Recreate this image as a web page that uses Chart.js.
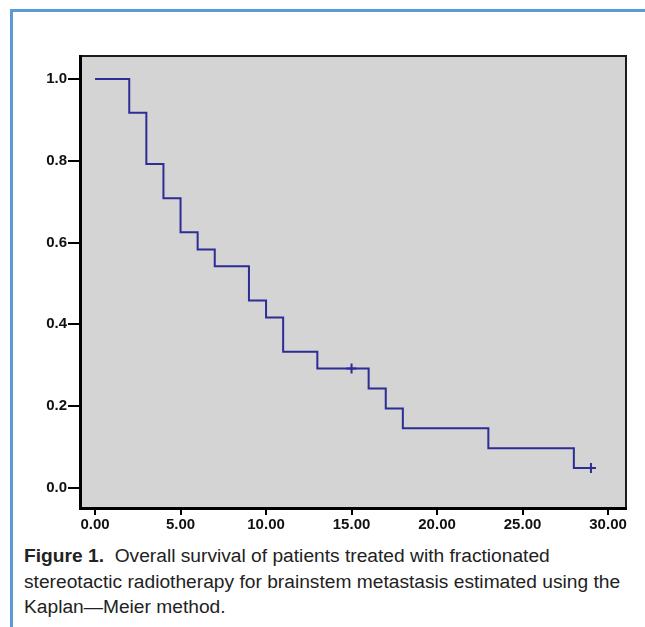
<!DOCTYPE html>
<html>
<head>
<meta charset="utf-8">
<title>Overall survival - Kaplan-Meier</title>
<script src="https://cdn.jsdelivr.net/npm/chart.js@4.4.1/dist/chart.umd.min.js"></script>
<style>
    html, body { margin: 0; padding: 0; background: #fff; }
    body { width: 645px; height: 627px; position: relative; overflow: hidden; }
    .frame {
        position: absolute; left: 10px; top: 9px; right: -20px; bottom: -20px;
        border-top: 3px solid #5b9bd5; border-left: 3px solid #5b9bd5;
    }
    #km-chart { position: absolute; left: 0; top: 0; }
    .caption {
        position: absolute; left: 24px; top: 543px; width: 620px;
        font-family: "Liberation Sans", Arial, sans-serif; font-size: 19.2px;
        line-height: 25.5px; color: #222; white-space: nowrap;
    }
    .caption b { font-family: "Liberation Sans Narrow", "Liberation Sans", Arial, sans-serif; }
</style>
</head>
<body>
<div class="frame"></div>
<canvas id="km-chart" width="645" height="540"></canvas>
<div class="caption"><b>Figure 1.</b>&nbsp; Overall survival of patients treated with fractionated<br>stereotactic radiotherapy for brainstem metastasis estimated using the<br>Kaplan—Meier method.</div>

<script>
/* Kaplan-Meier overall survival curve */

const times = [0, 2, 3, 4, 5, 6, 7, 9, 10, 11, 13, 15, 16, 17, 18, 23, 28, 29];
const survival = [1.0, 0.917, 0.792, 0.708, 0.625, 0.583, 0.542, 0.458, 0.417, 0.333, 0.292, 0.292, 0.243, 0.194, 0.146, 0.097, 0.049, 0.049];

// censored cases
const censorTimes = [15, 29];
const censorSurvival = [0.292, 0.049];

const xTickValues = [0, 5, 10, 15, 20, 25, 30];
const xTickLabels = ['0.00', '5.00', '10.00', '15.00', '20.00', '25.00', '30.00'];
const yTickValues = [0, 0.2, 0.4, 0.6, 0.8, 1.0];
const yTickLabels = ['0.0', '0.2', '0.4', '0.6', '0.8', '1.0'];

const lineColor = '#2c2d95';

// gray plot background + thin box round it
const plotFrame = {
    id: 'plotFrame',
    beforeDraw(chart) {
        const { ctx, chartArea: a } = chart;
        ctx.save();
        ctx.fillStyle = '#d4d4d4';
        ctx.fillRect(a.left, a.top, a.right - a.left, a.bottom - a.top);
        ctx.strokeStyle = '#1c1c1c';
        ctx.lineWidth = 2;
        ctx.strokeRect(a.left, a.top, a.right - a.left, a.bottom - a.top);
        ctx.restore();
    }
};

const tickFont = { family: '"Liberation Sans", Arial, sans-serif', size: 15, weight: 'bold' };

new Chart(document.getElementById('km-chart'), {
    type: 'scatter',
    data: {
        datasets: [
            {
                label: 'Survival',
                data: times.map((t, i) => ({ x: t, y: survival[i] })),
                showLine: true,
                stepped: 'before',
                borderColor: lineColor,
                borderWidth: 2,
                pointRadius: 0,
                fill: false,
            },
            {
                label: 'Censored',
                data: censorTimes.map((t, i) => ({ x: t, y: censorSurvival[i] })),
                showLine: false,
                pointStyle: 'cross',
                pointRadius: 5,
                borderColor: lineColor,
                borderWidth: 2,
            },
        ],
    },
    options: {
        responsive: false,
        devicePixelRatio: 1,
        animation: false,
        layout: { padding: { top: 56, right: 19, left: 0, bottom: 0 } },
        plugins: {
            legend: { display: false },
            tooltip: { enabled: false },
        },
        scales: {
            x: {
                type: 'linear',
                min: -0.88,
                max: 31.05,
                afterBuildTicks: s => { s.ticks = xTickValues.map(v => ({ value: v })); },
                afterFit: s => { s.height = 32; },
                ticks: {
                    autoSkip: false,
                    maxRotation: 0,
                    padding: 1,
                    color: '#111',
                    font: tickFont,
                    callback: (v, i) => xTickLabels[i],
                },
                grid: { drawOnChartArea: false, drawTicks: true, tickLength: 7, tickColor: '#000', lineWidth: 2 },
                border: { display: true, color: '#000', width: 3 },
            },
            y: {
                type: 'linear',
                min: -0.049,
                max: 1.056,
                afterBuildTicks: s => { s.ticks = yTickValues.map(v => ({ value: v })); },
                afterFit: s => { s.width = 80; },
                ticks: {
                    autoSkip: false,
                    padding: 1,
                    color: '#111',
                    font: tickFont,
                    callback: (v, i) => yTickLabels[i],
                },
                grid: { drawOnChartArea: false, drawTicks: true, tickLength: 12, tickColor: '#000', lineWidth: 2 },
                border: { display: true, color: '#000', width: 3 },
            },
        },
    },
    plugins: [plotFrame],
});
</script>
</body>
</html>
